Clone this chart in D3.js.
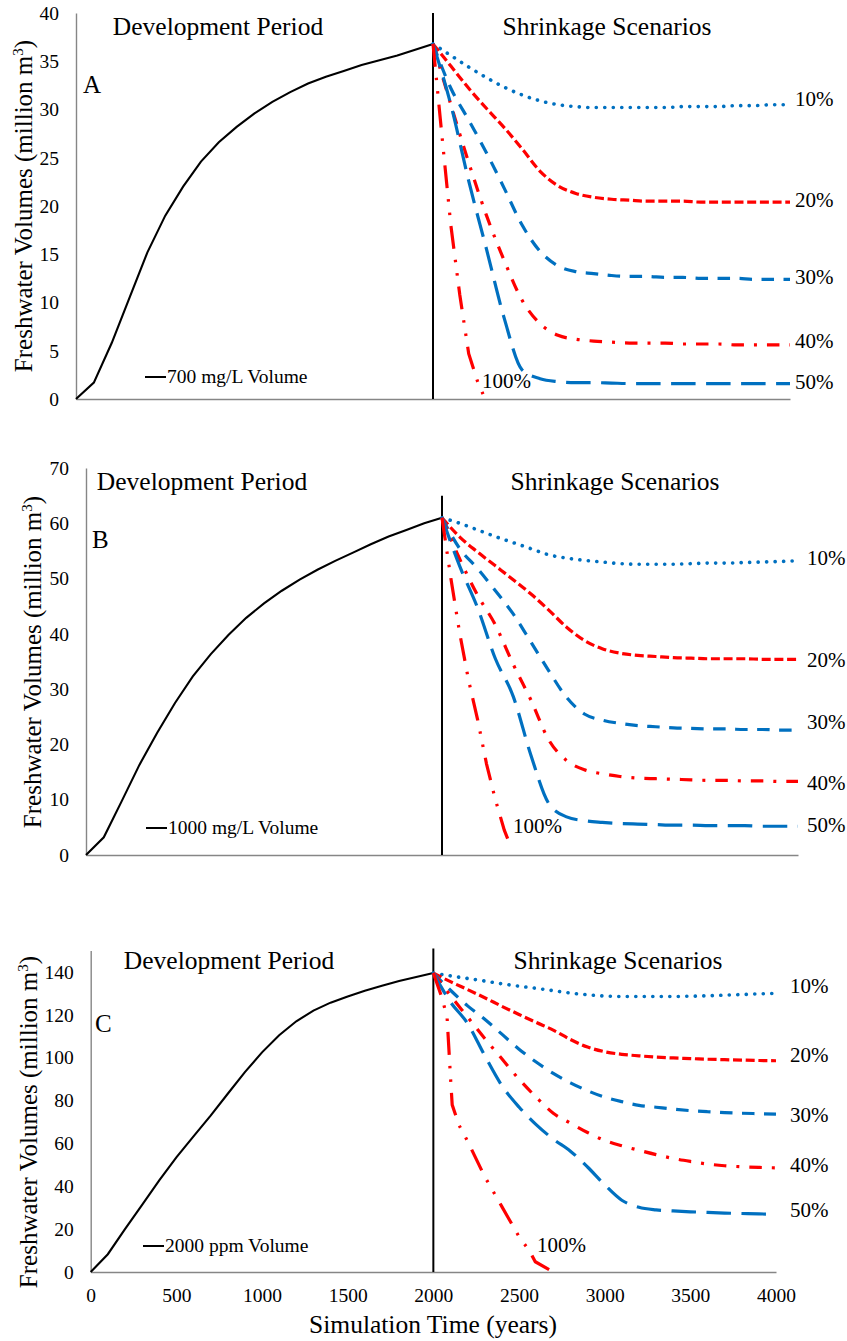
<!DOCTYPE html>
<html>
<head>
<meta charset="utf-8">
<script src="https://cdn.jsdelivr.net/npm/d3@7"></script>
<style>
html,body{margin:0;padding:0;background:#fff;}
svg text{font-family:"Liberation Serif","Times New Roman",serif;fill:#000;}
</style>
</head>
<body>
<svg id="chart" width="847" height="1341"></svg>
<script>
// ---------------- DATA ----------------
const devYears = [0,100,200,300,400,500,600,700,800,900,1000,1100,1200,1300,1400,1500,1600,1700,1800,1900,2000];
const shrinkYears = [2000,2100,2200,2300,2400,2500,2600,2700,2800,2900,3000,3100,3200,3300,3400,3500,3600,3700,3800,3900,4000];
const scenarioLabels = ["10%","20%","30%","40%","50%","100%"];
const xTicks = [0,500,1000,1500,2000,2500,3000,3500,4000];

// Panel A: 700 mg/L
const devA = [0,1.7,5.8,10.5,15.2,19.0,22.0,24.6,26.6,28.2,29.6,30.8,31.8,32.7,33.4,34.0,34.6,35.1,35.6,36.2,36.8];
const a10 = [36.8,35.6,34.4,33.3,32.3,31.5,30.9,30.5,30.3,30.2,30.2,30.2,30.2,30.2,30.3,30.3,30.3,30.4,30.4,30.5,30.5];
const a20 = [36.8,34.5,32.2,30.1,28.1,25.9,23.6,22.1,21.3,20.9,20.7,20.6,20.5,20.5,20.5,20.4,20.4,20.4,20.4,20.4,20.4];
const a30 = [36.8,32.2,28.9,25.5,21.8,18.0,15.3,13.8,13.2,13.0,12.8,12.7,12.7,12.6,12.6,12.5,12.5,12.5,12.4,12.4,12.4];
const a40 = [36.8,30.5,24.5,19.0,14.3,10.2,7.8,6.6,6.2,6.0,5.9,5.8,5.8,5.8,5.7,5.7,5.7,5.6,5.6,5.6,5.6];
const a50 = [36.8,30.5,22.6,15.5,8.3,3.0,2.1,1.8,1.7,1.7,1.65,1.6,1.6,1.6,1.6,1.6,1.6,1.6,1.6,1.6,1.6];
const a100Years = [2000,2050,2100,2150,2200,2250,2280];
const a100 = [36.8,27.3,18.0,10.8,4.7,1.8,0.5];

// Panel B: 1000 mg/L
const devB = [0,3.2,9.7,16.3,22.1,27.5,32.3,36.3,39.8,42.9,45.5,47.8,49.8,51.6,53.2,54.7,56.2,57.6,58.8,60.0,61.0];
const b10 = [61,60.0,58.8,57.6,56.5,55.4,54.3,53.7,53.3,53.0,52.7,52.6,52.6,52.6,52.7,52.8,52.8,52.9,53.0,53.1,53.2];
const b20 = [61,57.5,54.8,52.3,49.8,47.2,44.3,41.2,38.8,37.3,36.5,36.1,35.9,35.7,35.6,35.5,35.5,35.5,35.4,35.4,35.4];
const b30 = [61,55.4,51.8,47.8,43.6,38.5,33.3,28.5,25.5,24.4,23.8,23.4,23.2,23.0,22.9,22.8,22.8,22.7,22.7,22.6,22.6];
const b40 = [61,53.5,47.0,41.6,34.5,28.0,20.8,17.1,15.4,14.7,14.2,13.9,13.8,13.7,13.6,13.5,13.5,13.4,13.4,13.3,13.3];
const b50 = [61,52.2,44.7,35.5,28.7,18.0,9.3,6.9,6.2,5.9,5.7,5.6,5.5,5.4,5.4,5.3,5.3,5.3,5.2,5.2,5.2];
const b100Years = [2000,2050,2100,2150,2200,2250,2300,2350,2390];
const b100 = [61,50,40,31.5,24.5,16.5,10,4.5,1.2];

// Panel C: 2000 ppm
const devC = [0,8.3,20.0,31.3,42.8,53.5,63.3,73.0,83.2,93.3,102.5,110.5,117.0,122.0,125.7,128.6,131.3,133.6,135.8,137.7,139.5];
const c10 = [139.5,138.2,137.0,135.8,134.5,133.4,132.4,131.3,130.2,129.4,128.8,128.6,128.6,128.6,128.6,128.7,128.9,129.2,129.5,129.8,130.0];
const c20 = [139.5,135.5,131.8,128.0,124.0,120.2,116.5,112.9,108.5,105.0,102.8,101.6,100.9,100.3,99.9,99.6,99.3,99.1,98.9,98.7,98.6];
const c30 = [139.5,131.5,124.2,118.0,111.0,104.0,98.0,92.7,88.3,84.6,81.6,79.5,77.8,76.9,76.0,75.3,74.8,74.4,74.1,73.9,73.7];
const c40 = [139.5,129.0,119.0,109.0,99.5,90.0,81.6,74.1,69.5,65.1,61.4,58.9,56.8,54.8,53.0,51.6,50.4,49.6,49.1,48.8,48.6];
const c50 = [139.5,126.0,116.0,101.0,87.0,77.0,68.8,62.0,56.4,49.0,40.7,33.5,30.2,29.0,28.5,28.1,27.8,27.5,27.3,27.1,27.0];
const c100Years = [2000,2050,2080,2100,2110,2150,2200,2300,2400,2500,2560,2595,2700];
const c100 = [139.5,128,119,91,78,68.5,61,44.5,30.5,16.5,10,4.8,0];

// ---------------- STYLE / LAYOUT ----------------
const scenStyles = [
  {color:"#0070C0", dash:"0.1 8.4", cap:"round", width:3.6},   // 10% round dot
  {color:"#FF0000", dash:"9 3.7",  cap:"butt",  width:3.2},    // 20% short dash
  {color:"#0070C0", dash:"12.5 9.5", cap:"butt", width:3.2},   // 30% dash
  {color:"#FF0000", dash:"12.5 10 3 10", cap:"butt", width:3.2}, // 40% dash dot
  {color:"#0070C0", dash:"24.5 10.5", cap:"butt", width:3.2},  // 50% long dash
  {color:"#FF0000", dash:"23 11 2.5 11 2.5 11", cap:"butt", width:3.2} // 100% long dash dot dot
];

const panels = [
  {letter:"A", legend:"700 mg/L Volume", xRange:[76,790], yDomain:[0,40], yRange:[399,13], yTicks:[0,5,10,15,20,25,30,35,40],
   vTop:40, dev:devA, shr:[a10,a20,a30,a40,a50], y100:a100Years, v100:a100,
   titleY:35, devX:218, shrX:607, letterPos:[83,93], legPos:[145,377], ylabX:32, ylabY:206,
   pctX:795, pctDy:[1,5,5,3,5], p100:[482,388], showX:false},
  {letter:"B", legend:"1000 mg/L Volume", xRange:[86,798], yDomain:[0,70], yRange:[855,468], yTicks:[0,10,20,30,40,50,60,70],
   vTop:65, dev:devB, shr:[b10,b20,b30,b40,b50], y100:b100Years, v100:b100,
   titleY:490, devX:202, shrX:615, letterPos:[92,548], legPos:[146,828], ylabX:41, ylabY:662,
   pctX:807, pctDy:[4,8,-1,9,6], p100:[513,833], showX:false},
  {letter:"C", legend:"2000 ppm Volume", xRange:[90.7,776], yDomain:[0,150], yRange:[1272,950.6], yTicks:[0,20,40,60,80,100,120,140],
   vTop:151, dev:devC, shr:[c10,c20,c30,c40,c50], y100:c100Years, v100:c100,
   titleY:969, devX:229, shrX:618, letterPos:[95,1032], legPos:[143,1246], ylabX:37, ylabY:1122,
   pctX:790, pctDy:[0,1,8,4,3], p100:[537,1252], showX:true}
];

const svg = d3.select("#chart");

panels.forEach(p => {
  const x = d3.scaleLinear().domain([0,4000]).range(p.xRange);
  const y = d3.scaleLinear().domain(p.yDomain).range(p.yRange);
  const g = svg.append("g");

  // y axis
  const yAxis = d3.axisLeft(y).tickValues(p.yTicks).tickSize(0).tickPadding(17);
  const ya = g.append("g").attr("transform", `translate(${x(0)},0)`).call(yAxis);
  ya.select(".domain").attr("stroke","#868686").attr("stroke-width",1.4);
  ya.selectAll("text").style("font-family","Liberation Serif").style("font-size","19.5px").attr("fill","#000");

  // x axis
  const xAxis = d3.axisBottom(x).tickValues(xTicks).tickSize(0).tickPadding(16).tickFormat(d3.format("d"));
  const xa = g.append("g").attr("transform", `translate(0,${y(0)})`).call(xAxis);
  xa.select(".domain").attr("stroke","#868686").attr("stroke-width",1.4);
  xa.selectAll("text").style("font-family","Liberation Serif").style("font-size","19.5px").attr("fill","#000")
    .style("display", p.showX ? null : "none");

  // vertical divider at 2000
  g.append("line").attr("x1",x(2000)).attr("x2",x(2000)).attr("y1",y(p.vTop)).attr("y2",y(0))
    .attr("stroke","#000").attr("stroke-width",2);

  // development curve
  const line = d3.line().x(d=>x(d[0])).y(d=>y(d[1]));
  g.append("path").datum(devYears.map((yr,i)=>[yr,p.dev[i]]))
    .attr("d", line).attr("fill","none").attr("stroke","#000").attr("stroke-width",2.1);

  // shrinkage curves
  const smooth = d3.line().x(d=>x(d[0])).y(d=>y(d[1])).curve(d3.curveMonotoneX);
  const allS = p.shr.map(vals => shrinkYears.map((yr,i)=>[yr,vals[i]]));
  allS.push(p.y100.map((yr,i)=>[yr,p.v100[i]]));
  allS.forEach((pts,k) => {
    const st = scenStyles[k];
    g.append("path").datum(pts)
      .attr("d", k===5 ? line(pts) : smooth(pts))
      .attr("fill","none").attr("stroke",st.color).attr("stroke-width",st.width)
      .attr("stroke-dasharray",st.dash).attr("stroke-linecap",st.cap);
  });

  // percent labels
  p.shr.forEach((vals,k) => {
    g.append("text").attr("x",p.pctX).attr("y",y(vals[vals.length-1]) + p.pctDy[k])
      .style("font-size","21px").text(scenarioLabels[k]);
  });
  g.append("text").attr("x",p.p100[0]).attr("y",p.p100[1]).style("font-size","21px").text(scenarioLabels[5]);

  // titles
  g.append("text").attr("x",p.devX).attr("y",p.titleY).attr("text-anchor","middle")
    .style("font-size","25.5px").text("Development Period");
  g.append("text").attr("x",p.shrX).attr("y",p.titleY).attr("text-anchor","middle")
    .style("font-size","25.5px").text("Shrinkage Scenarios");
  g.append("text").attr("x",p.letterPos[0]).attr("y",p.letterPos[1]).style("font-size","25px").text(p.letter);

  // legend
  g.append("line").attr("x1",p.legPos[0]).attr("x2",p.legPos[0]+21).attr("y1",p.legPos[1]).attr("y2",p.legPos[1])
    .attr("stroke","#000").attr("stroke-width",2);
  g.append("text").attr("x",p.legPos[0]+22).attr("y",p.legPos[1]+6).style("font-size","19.5px").text(p.legend);

  // y axis title
  const yl = g.append("text").attr("transform",`translate(${p.ylabX},${p.ylabY}) rotate(-90)`)
    .attr("text-anchor","middle").style("font-size","25px");
  yl.append("tspan").text("Freshwater Volumes (million m");
  yl.append("tspan").attr("dy",-9).style("font-size","15px").text("3");
  yl.append("tspan").attr("dy",9).text(")");

  if (p.showX) {
    g.append("text").attr("x",433).attr("y",1333).attr("text-anchor","middle")
      .style("font-size","25.5px").text("Simulation Time (years)");
  }
});
</script>
</body>
</html>
